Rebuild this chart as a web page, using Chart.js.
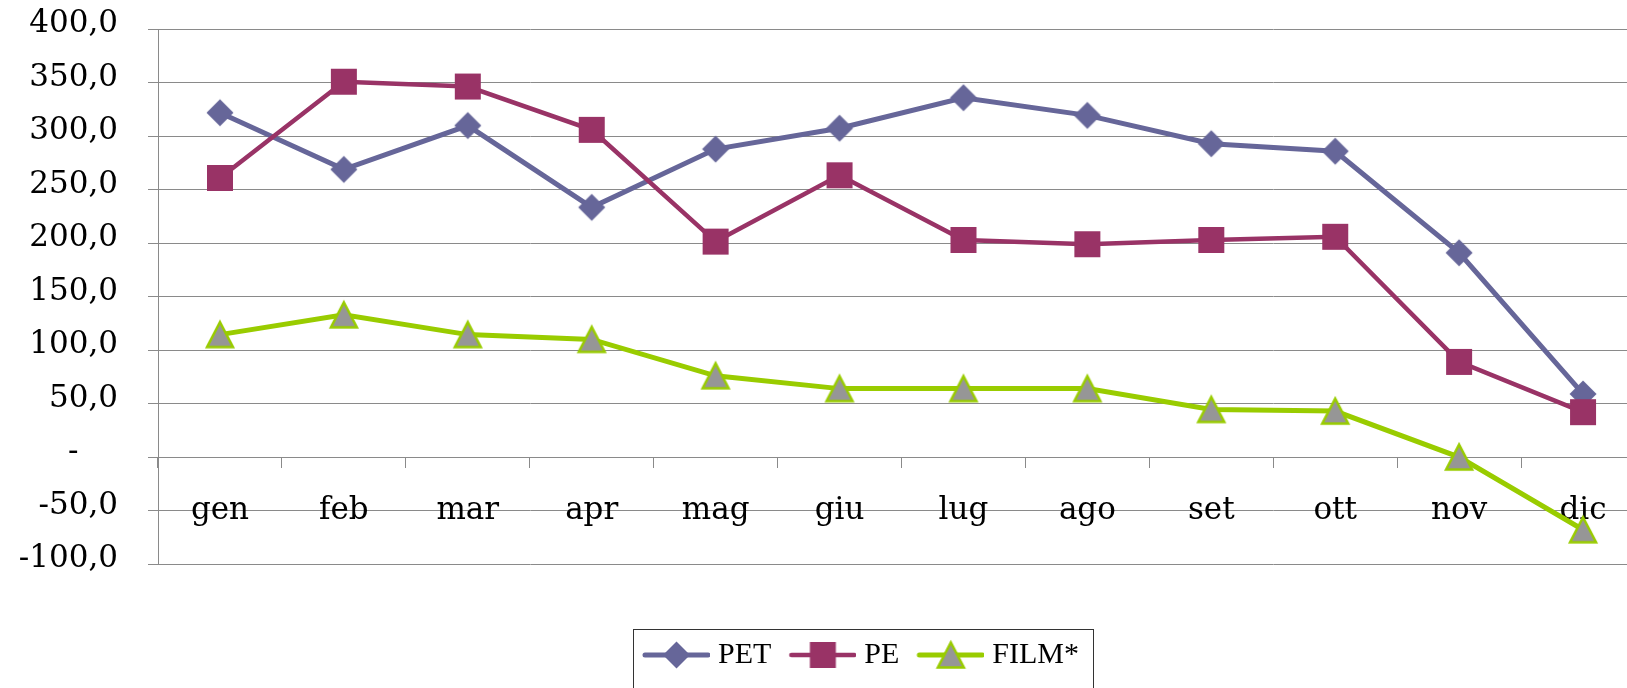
<!DOCTYPE html>
<html>
<head>
<meta charset="utf-8">
<script src="https://cdn.jsdelivr.net/npm/chart.js@4/dist/chart.umd.min.js"></script>
<style>
  html, body { margin: 0; padding: 0; background: #fff; overflow: hidden; }
  canvas { display: block; }
</style>
</head>
<body>
<canvas id="c" width="1722" height="688"></canvas>
<script>
const months = ['gen','feb','mar','apr','mag','giu','lug','ago','set','ott','nov','dic'];
const pet  = [322, 269, 310, 233.5, 288, 307.5, 336, 319.5, 293, 286, 191, 59];
const pe   = [261, 351, 346.5, 306, 201.5, 263.5, 203, 199, 203, 206, 89, 42];
const film = [114.5, 133, 114.5, 110, 76, 64, 64, 64, 44.5, 43, 0, -68];
const seriesNames = ['PET', 'PE', 'FILM*'];
const yMin = -100, yMax = 400, yStep = 50;

const colors = { PET: '#666699', PE: '#993366', FILM: '#99cc00' };

// marker glyphs, bbox centred on the point like Excel does
function drawShape(ctx, kind, cx, cy){
  ctx.beginPath();
  if (kind === 'diamond') {
    ctx.moveTo(cx, cy-13.5); ctx.lineTo(cx+13.5, cy); ctx.lineTo(cx, cy+13.5); ctx.lineTo(cx-13.5, cy);
    ctx.closePath(); ctx.fillStyle = colors.PET; ctx.fill();
  } else if (kind === 'square') {
    ctx.rect(cx-13, cy-13, 26, 26); ctx.fillStyle = colors.PE; ctx.fill();
  } else {
    ctx.moveTo(cx, cy-12.5); ctx.lineTo(cx+13, cy+12.5); ctx.lineTo(cx-13, cy+12.5);
    ctx.closePath(); ctx.fillStyle = '#969696'; ctx.fill();
    ctx.lineWidth = 2.5; ctx.strokeStyle = colors.FILM; ctx.lineJoin = 'miter'; ctx.stroke();
  }
}
function pointImg(kind){
  const c = document.createElement('canvas'); c.width = 32; c.height = 32;
  drawShape(c.getContext('2d'), kind, 16, 16); return c;
}
function legendImg(kind, color, lw){
  const c = document.createElement('canvas'); c.width = 74; c.height = 32;
  const x = c.getContext('2d');
  x.strokeStyle = color; x.lineWidth = lw; x.lineCap = 'round';
  x.beginPath(); x.moveTo(9, 16); x.lineTo(72, 16); x.stroke();
  drawShape(x, kind, 40.5, 16); return c;
}
const kinds = ['diamond', 'square', 'triangle'];
const lineColors = [colors.PET, colors.PE, colors.FILM];
const lineWidths = [5, 4.5, 5];
const legendImgs = kinds.map((k,i) => legendImg(k, lineColors[i], lineWidths[i]));

// Excel-style frame around the legend (open at the bottom, cut by the picture edge)
const legendBox = {
  id: 'legendBox',
  afterDraw(chart){
    const hb = chart.legend.legendHitBoxes; if (!hb || !hb.length) return;
    const l = Math.min(...hb.map(h => h.left)) - 10;
    const r = Math.max(...hb.map(h => h.left + h.width)) + 14;
    const t = hb[0].top + hb[0].height/2 - 26;
    const ctx = chart.ctx; ctx.save();
    ctx.strokeStyle = '#333'; ctx.lineWidth = 1;
    ctx.strokeRect(Math.round(l)+0.5, Math.round(t)+0.5, Math.round(r-l), chart.height);
    ctx.restore();
  }
};

const axisFont = { family: 'DejaVu Serif', size: 31 };
const ds = [pet, pe, film].map((data, i) => ({
  label: seriesNames[i], data,
  borderColor: lineColors[i], backgroundColor: lineColors[i],
  borderWidth: lineWidths[i], tension: 0,
  pointStyle: pointImg(kinds[i]), pointRadius: 6, pointHoverRadius: 6,
  order: 3 - i
}));

new Chart(document.getElementById('c').getContext('2d'), {
  type: 'line',
  data: { labels: months, datasets: ds },
  options: {
    responsive: false, animation: false,
    layout: { padding: { top: 29.3, left: 0, right: 0, bottom: 8 } },
    plugins: {
      tooltip: { enabled: false },
      legend: {
        position: 'bottom',
        title: { display: true, text: '', font: { size: 10 }, padding: { top: 0, bottom: 46 } },
        labels: {
          usePointStyle: true, pointStyleWidth: 60, padding: 18, color: '#000',
          font: { family: 'Liberation Serif', size: 30 },
          generateLabels(chart){
            return Chart.defaults.plugins.legend.labels.generateLabels(chart)
              .sort((a,b) => a.datasetIndex - b.datasetIndex)
              .map(l => ({ ...l, pointStyle: legendImgs[l.datasetIndex] }));
          }
        }
      }
    },
    scales: {
      y: {
        min: yMin, max: yMax,
        ticks: {
          stepSize: yStep, color: '#000', font: axisFont, padding: 30, labelOffset: -5,
          callback: v => v === 0 ? '-\u2007\u2007' : v.toFixed(1).replace('.', ',')
        },
        grid: { color: '#8a8a8a', lineWidth: 1, tickLength: 10 },
        border: { color: '#8a8a8a' },
        afterFit(s){ s.width = 158; s.paddingTop = 0; s.paddingBottom = 0; }
      },
      y2: {
        type: 'linear', position: 'right', display: true,
        grid: { display: false, drawTicks: false }, border: { display: false },
        ticks: { display: false },
        afterFit(s){ s.width = 77; s.paddingTop = 0; s.paddingBottom = 0; }
      },
      x: {
        position: { y: 0 }, offset: true,
        grid: { offset: true, drawOnChartArea: false, drawTicks: true, tickLength: 10, color: '#8a8a8a' },
        border: { color: '#8a8a8a' },
        ticks: { color: '#000', font: axisFont, padding: 25, maxRotation: 0, autoSkip: false }
      }
    }
  },
  plugins: [legendBox]
});
</script>
</body>
</html>
